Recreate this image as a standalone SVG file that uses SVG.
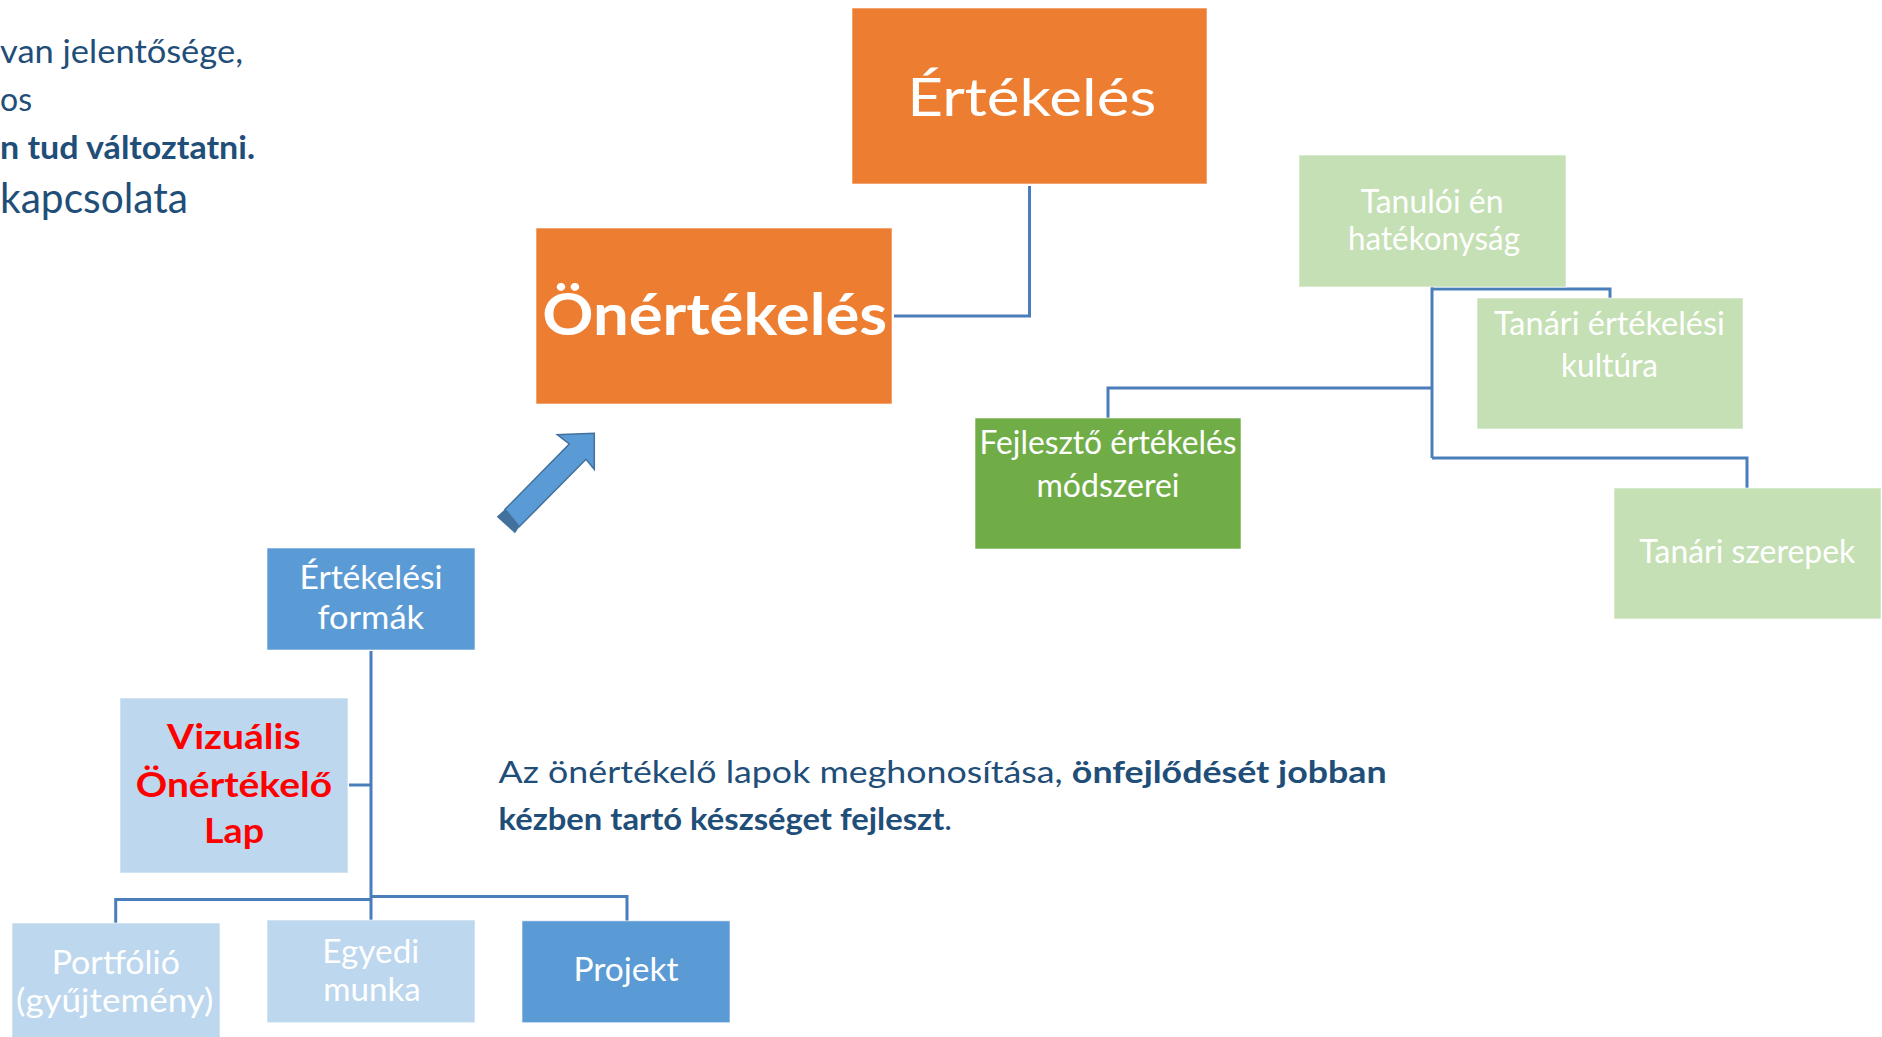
<svg xmlns="http://www.w3.org/2000/svg" width="1882" height="1037" viewBox="0 0 1882 1037">
<style>
text{font-family:Lato,"Liberation Sans",sans-serif;}
.c{text-anchor:middle;}
.w{fill:#ffffff;}
.b{font-weight:bold;}
.dk{fill:#1F4E79;}
.red{fill:#FF0000;font-weight:bold;}
.or{fill:#ED7D31;}
.gd{fill:#70AD47;}
.gl{fill:#C5E0B4;}
.bl{fill:#5B9BD5;}
.bll{fill:#BDD7EE;}
.box{stroke:#ffffff;stroke-opacity:0.6;stroke-width:1;}
.con path{fill:none;stroke:#4A7EBB;stroke-width:3;}
</style>
<rect width="1882" height="1037" fill="#ffffff"/>

<g id="intro-text" class="dk">
<text x="0" y="63" font-size="32" textLength="243" lengthAdjust="spacingAndGlyphs">van jelentősége,</text>
<text x="0" y="111" font-size="32" textLength="32" lengthAdjust="spacingAndGlyphs">os</text>
<text x="0" y="159" font-size="32" class="b" textLength="255" lengthAdjust="spacingAndGlyphs">n tud változtatni.</text>
<text x="0" y="213" font-size="42" textLength="188" lengthAdjust="spacingAndGlyphs">kapcsolata</text>
</g>

<g id="connectors" class="con">
<path d="M1029.5 186 V316 H894"/>
<path d="M1432 287 V458"/>
<path d="M1432 289 H1610 V298"/>
<path d="M1432 388 H1108 V418"/>
<path d="M1432 458 H1747 V488"/>
<path d="M371 651 V920"/>
<path d="M349 785 H371"/>
<path d="M371 899.5 H115.7 V923"/>
<path d="M371 896.5 H627 V921"/>
</g>

<g id="node-ertekeles">
<rect class="or box" x="852" y="8" width="355" height="176"/>
<text class="c w" x="1031.8" y="115.7" font-size="53" textLength="249" lengthAdjust="spacingAndGlyphs">Értékelés</text>
</g>

<g id="node-onertekeles">
<rect class="or box" x="536" y="228" width="356" height="176"/>
<text class="c w b" x="714.7" y="335" font-size="57" textLength="345" lengthAdjust="spacingAndGlyphs">Önértékelés</text>
</g>

<g id="node-tanuloi">
<rect class="gl box" x="1299" y="155" width="267" height="132"/>
<text class="c w" x="1432" y="212.7" font-size="33" textLength="143" lengthAdjust="spacingAndGlyphs">Tanulói én</text>
<text class="c w" x="1434" y="250" font-size="33" textLength="172" lengthAdjust="spacingAndGlyphs">hatékonyság</text>
</g>

<g id="node-tanari-kultura">
<rect class="gl box" x="1477" y="298" width="266" height="131"/>
<text class="c w" x="1609.4" y="335" font-size="32" textLength="231" lengthAdjust="spacingAndGlyphs">Tanári értékelési</text>
<text class="c w" x="1609.5" y="377" font-size="32" textLength="97" lengthAdjust="spacingAndGlyphs">kultúra</text>
</g>

<g id="node-fejleszto">
<rect class="gd box" x="975" y="418" width="266" height="131"/>
<text class="c w" x="1108" y="454.3" font-size="32" textLength="257" lengthAdjust="spacingAndGlyphs">Fejlesztő értékelés</text>
<text class="c w" x="1108" y="497.3" font-size="32" textLength="143" lengthAdjust="spacingAndGlyphs">módszerei</text>
</g>

<g id="node-tanari-szerepek">
<rect class="gl box" x="1614" y="488" width="267" height="131"/>
<text class="c w" x="1747.3" y="563.3" font-size="32" textLength="216" lengthAdjust="spacingAndGlyphs">Tanári szerepek</text>
</g>

<g id="arrow">
<polygon points="505,509.3 519.3,526.7 515,533.3 496.7,516.7" fill="#41719C"/>
<polygon points="505,509.3 569.3,444 557.3,434.7 594.3,433.3 594.3,469.3 586,459.3 519.3,526.7" fill="#5B9BD5" stroke="#41719C" stroke-width="1.5" stroke-linejoin="miter"/>
</g>

<g id="node-ertekelesi-formak">
<rect class="bl box" x="267" y="548" width="208" height="102"/>
<text class="c w" x="371" y="589.3" font-size="32" textLength="143" lengthAdjust="spacingAndGlyphs">Értékelési</text>
<text class="c w" x="370.8" y="629.4" font-size="32" textLength="106.5" lengthAdjust="spacingAndGlyphs">formák</text>
</g>

<g id="node-vizualis">
<rect class="bll box" x="120" y="698" width="228" height="175"/>
<text class="c red" x="233.8" y="748.7" font-size="35" textLength="133.5" lengthAdjust="spacingAndGlyphs">Vizuális</text>
<text class="c red" x="233.9" y="796.8" font-size="35" textLength="196.3" lengthAdjust="spacingAndGlyphs">Önértékelő</text>
<text class="c red" x="234" y="843.2" font-size="35" textLength="60" lengthAdjust="spacingAndGlyphs">Lap</text>
</g>

<g id="node-portfolio">
<rect class="bll box" x="12" y="923" width="208" height="120"/>
<text class="c w" x="115.8" y="974" font-size="33" textLength="128.3" lengthAdjust="spacingAndGlyphs">Portfólió</text>
<text class="c w" x="114.7" y="1011.7" font-size="33" textLength="197.3" lengthAdjust="spacingAndGlyphs">(gyűjtemény)</text>
</g>

<g id="node-egyedi">
<rect class="bll box" x="267" y="920" width="208" height="102.7"/>
<text class="c w" x="370.8" y="963.3" font-size="33" textLength="97" lengthAdjust="spacingAndGlyphs">Egyedi</text>
<text class="c w" x="372" y="1001" font-size="33" textLength="97.4" lengthAdjust="spacingAndGlyphs">munka</text>
</g>

<g id="node-projekt">
<rect class="bl box" x="522" y="920.8" width="208" height="101.9"/>
<text class="c w" x="626" y="981" font-size="32" textLength="105.2" lengthAdjust="spacingAndGlyphs">Projekt</text>
</g>

<g id="note-text" class="dk">
<text x="498.6" y="782.5" font-size="31" textLength="888" lengthAdjust="spacingAndGlyphs">Az önértékelő lapok meghonosítása, <tspan class="b">önfejlődését jobban</tspan></text>
<text x="498.6" y="830" font-size="31" textLength="453.5" lengthAdjust="spacingAndGlyphs"><tspan class="b">kézben tartó készséget fejleszt</tspan>.</text>
</g>
</svg>
